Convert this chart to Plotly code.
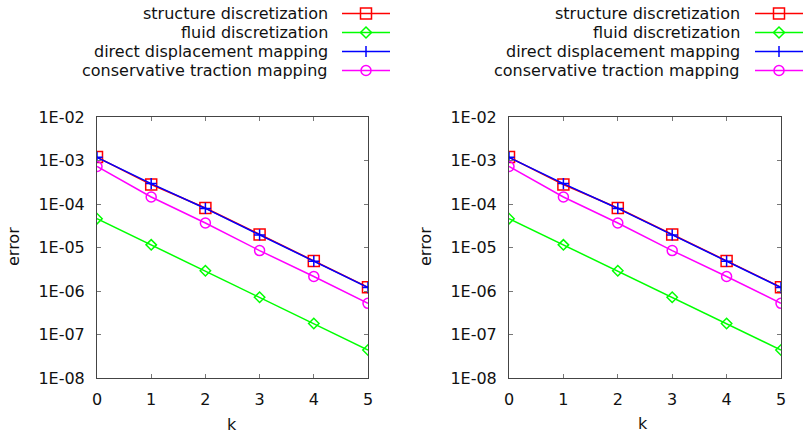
import plotly.graph_objects as go

W, H = 805, 434

k = [0, 1, 2, 3, 4, 5]
structure = [1.2e-3, 2.8e-4, 8.1e-5, 2.0e-5, 4.9e-6, 1.22e-6]
fluid = [4.6e-5, 1.15e-5, 2.92e-6, 7.2e-7, 1.79e-7, 4.4e-8]
direct = [1.18e-3, 2.95e-4, 7.9e-5, 1.95e-5, 4.85e-6, 1.2e-6]
conservative = [7.3e-4, 1.45e-4, 3.66e-5, 8.5e-6, 2.16e-6, 5.2e-7]

names = ["structure discretization", "fluid discretization",
         "direct displacement mapping", "conservative traction mapping"]
colors = ["#ff0000", "#00ff00", "#0000ff", "#ff00ff"]
series = [structure, fluid, direct, conservative]
symbols = ["square-open", "diamond-open", "cross-thin-open", "circle-open"]
sizes = [11, 8, 8, 10]

ytickvals = [1e-2, 1e-3, 1e-4, 1e-5, 1e-6, 1e-7, 1e-8]
yticktext = ["1E-02", "1E-03", "1E-04", "1E-05", "1E-06", "1E-07", "1E-08"]

FONT = "DejaVu Sans"
FS = 16

def px(x):
    return x / W

def py(y):
    return 1 - y / H

fig = go.Figure()
for sub, (xa, ya) in enumerate([("x", "y"), ("x2", "y2")]):
    for nm, c, s, sym, sz in zip(names, colors, series, symbols, sizes):
        fig.add_trace(go.Scatter(
            x=k, y=s, mode="lines+markers", name=nm, showlegend=False,
            xaxis=xa, yaxis=ya,
            line=dict(color=c, width=1.5),
            marker=dict(symbol=sym, size=sz, color=c, line=dict(color=c, width=1.5)),
        ))

axcommon = dict(showline=True, mirror="allticks", linecolor="#444", linewidth=1,
                ticks="inside", ticklen=4, tickcolor="#777", tickwidth=1,
                showgrid=False, zeroline=False, automargin=False,
                tickfont=dict(family=FONT, size=FS, color="#111"))

ydom = [py(378), py(117)]
fig.update_layout(
    width=W, height=H, margin=dict(l=0, r=0, t=0, b=0),
    paper_bgcolor="white", plot_bgcolor="white",
    font=dict(family=FONT, size=FS, color="#111"),
    xaxis=dict(domain=[px(97), px(368)], range=[0, 5], tickvals=k, anchor="y",
               ticklabelstandoff=7, **axcommon),
    yaxis=dict(domain=ydom, type="log", range=[-8, -2], tickvals=ytickvals,
               ticktext=yticktext, anchor="x", ticklabelstandoff=8, **axcommon),
    xaxis2=dict(domain=[px(509), px(781)], range=[0, 5], tickvals=k, anchor="y2",
                ticklabelstandoff=7, **axcommon),
    yaxis2=dict(domain=ydom, type="log", range=[-8, -2], tickvals=ytickvals,
                ticktext=yticktext, anchor="x2", ticklabelstandoff=8, **axcommon),
)

annotations = []
shapes = []
# axis titles
for xt, yt, xk, yk in [(13, 247, 232, 424), (425, 247, 643, 423)]:
    annotations.append(dict(x=px(xt), y=py(yt), xref="paper", yref="paper", text="error",
                            showarrow=False, textangle=-90, xanchor="center", yanchor="middle",
                            font=dict(size=FS)))
    annotations.append(dict(x=px(xk), y=py(yk), xref="paper", yref="paper", text="k",
                            showarrow=False, xanchor="center", yanchor="middle",
                            font=dict(size=FS)))

# manual legends (text on left, sample on right)
rows = [13.5, 32.5, 51.5, 70.5]
for text_end, l0, l1 in [(330, 342, 390), (742, 755, 803)]:
    mc = (l0 + l1) / 2
    for i, (nm, c) in enumerate(zip(names, colors)):
        yy = rows[i]
        annotations.append(dict(x=px(text_end), y=py(yy), xref="paper", yref="paper",
                                text=nm, showarrow=False, xanchor="right", yanchor="middle",
                                font=dict(size=FS)))
        shapes.append(dict(type="line", xref="paper", yref="paper",
                           x0=px(l0), x1=px(l1), y0=py(yy), y1=py(yy),
                           line=dict(color=c, width=1.5)))
        if i == 0:
            r = 5.5
            shapes.append(dict(type="rect", xref="paper", yref="paper",
                               x0=px(mc - r), x1=px(mc + r), y0=py(yy + r), y1=py(yy - r),
                               line=dict(color=c, width=1.5)))
        elif i == 1:
            r = 5.5
            path = "M {},{} L {},{} L {},{} L {},{} Z".format(
                px(mc - r), py(yy), px(mc), py(yy - r), px(mc + r), py(yy), px(mc), py(yy + r))
            shapes.append(dict(type="path", xref="paper", yref="paper", path=path,
                               line=dict(color=c, width=1.5)))
        elif i == 2:
            r = 5.5
            shapes.append(dict(type="line", xref="paper", yref="paper",
                               x0=px(mc), x1=px(mc), y0=py(yy - r), y1=py(yy + r),
                               line=dict(color=c, width=1.5)))
        else:
            r = 5
            shapes.append(dict(type="circle", xref="paper", yref="paper",
                               x0=px(mc - r), x1=px(mc + r), y0=py(yy + r), y1=py(yy - r),
                               line=dict(color=c, width=1.5)))

fig.update_layout(annotations=annotations, shapes=shapes)
fig.write_html("out.html")
